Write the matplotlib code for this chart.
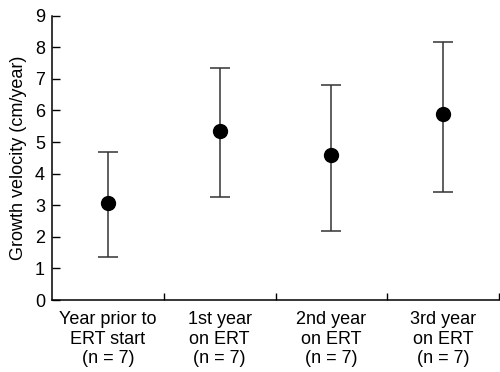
import numpy as np
import matplotlib
matplotlib.use("Agg")
import matplotlib.pyplot as plt

#--------------------------------------------
# data
labels = ["Year prior to\nERT start\n(n = 7)",
          "1st year\non ERT\n(n = 7)",
          "2nd year\non ERT\n(n = 7)",
          "3rd year\non ERT\n(n = 7)"]
means = [3.07, 5.34, 4.59, 5.90]
upper = [4.67, 7.35, 6.81, 8.18]
lower = [1.36, 3.27, 2.18, 3.42]

#--------------------------------------------
# plot
plt.rcParams['font.family'] = ['Liberation Sans', 'DejaVu Sans']
fig = plt.figure(figsize=(5.0, 3.72), dpi=100)
ax = fig.add_axes([0.104, 0.1935, 0.894, 0.7645])

x = np.arange(1, len(means) + 1)
means = np.array(means)
err = [means - np.array(lower), np.array(upper) - means]
ax.errorbar(x, means, yerr=err, fmt='o', color='black', ecolor='#333333',
            elinewidth=1.1, capsize=7, capthick=1.1, markersize=10)

ax.set_xlim(0.5, 4.5)
ax.set_ylim(0, 9)
ax.set_yticks(np.arange(0, 10, 1))
ax.set_xticks(x)
ax.set_xticklabels(labels, fontsize=13, linespacing=1.2)
ax.set_xticks(np.arange(1.5, 5.0, 1.0), minor=True)
ax.tick_params(axis='x', which='major', length=0, pad=8)
ax.tick_params(axis='x', which='minor', direction='in', length=5, width=1)
ax.tick_params(axis='y', direction='in', length=6, width=1, labelsize=13, pad=5)
ax.set_ylabel("Growth velocity (cm/year)", fontsize=13, labelpad=6)

for s in ['top', 'right']:
    ax.spines[s].set_visible(False)
for s in ['left', 'bottom']:
    ax.spines[s].set_linewidth(1.1)

fig.savefig("out.png", dpi=100)
